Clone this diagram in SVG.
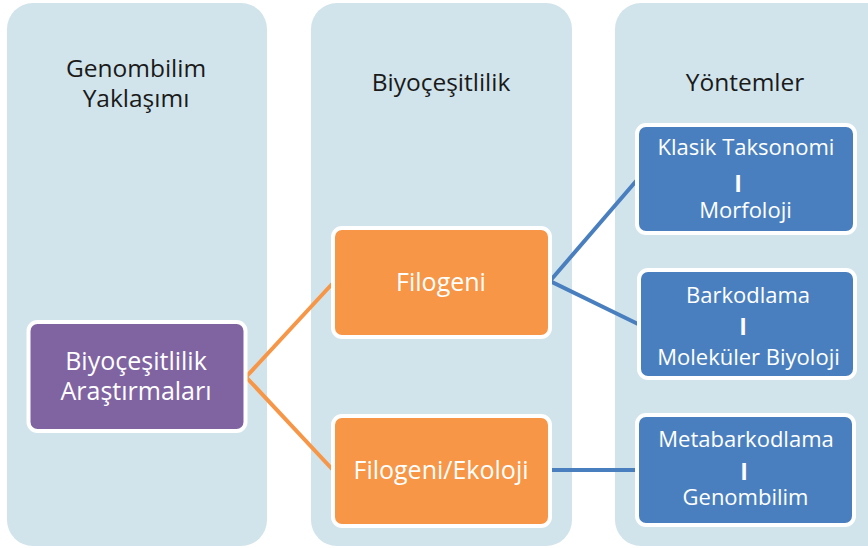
<svg xmlns="http://www.w3.org/2000/svg" width="868" height="548" viewBox="0 0 868 548">
<style>
.col{fill:#D1E4EB}
.box{stroke:#fff;stroke-width:4}
.p{fill:#8064A2}.o{fill:#F79646}.b{fill:#4A7FBF}
.h{font-family:"Open Sans","Liberation Sans",sans-serif;font-size:24.5px;fill:#1a1a1a;text-anchor:middle}
.t{font-family:"Open Sans","Liberation Sans",sans-serif;fill:#fff;text-anchor:middle}
.big{font-size:25px}.sm{font-size:22px}
.bar{font-family:"Open Sans","Liberation Sans",sans-serif;fill:#fff;text-anchor:middle;font-size:23px;font-weight:bold}
.lo{stroke:#F79646;stroke-width:4;fill:none}
.lb{stroke:#4A7FBF;stroke-width:4;fill:none}
</style>
<rect width="868" height="548" fill="#fff"/>
<g id="columns">
<rect class="col" x="7" y="3" width="260" height="543" rx="26"/>
<rect class="col" x="311" y="3" width="261" height="543" rx="26"/>
<rect class="col" x="615" y="3" width="280" height="543" rx="26"/>
<text class="h" x="136" y="77">Genombilim</text>
<text class="h" x="136" y="107">Yaklaşımı</text>
<text class="h" x="441" y="91">Biyoçeşitlilik</text>
<text class="h" x="745" y="91">Yöntemler</text>
</g>
<g id="connectors">
<polyline class="lo" points="333,283 246,377 333,470"/>
<polyline class="lb" points="637,180 550,281 638,324"/>
<line class="lb" x1="550" y1="470" x2="638" y2="470"/>
</g>
<g id="n-arastirmalar">
<rect class="box p" x="28.5" y="322" width="217" height="109" rx="9"/>
<text class="t big" x="136" y="370">Biyoçeşitlilik</text>
<text class="t big" x="136" y="400">Araştırmaları</text>
</g>
<g id="n-filogeni">
<rect class="box o" x="333" y="228" width="217" height="109" rx="9"/>
<text class="t big" x="441" y="291">Filogeni</text>
</g>
<g id="n-filogeni-ekoloji">
<rect class="box o" x="333" y="416" width="217" height="110" rx="9"/>
<text class="t big" x="441" y="479">Filogeni/Ekoloji</text>
</g>
<g id="n-klasik">
<rect class="box b" x="637" y="125" width="218" height="108" rx="9"/>
<text class="t sm" x="746" y="155">Klasik Taksonomi</text>
<text class="bar" x="738" y="192">I</text>
<text class="t sm" x="745.5" y="218">Morfoloji</text>
</g>
<g id="n-barkodlama">
<rect class="box b" x="639" y="270" width="216" height="108" rx="9"/>
<text class="t sm" x="748" y="303">Barkodlama</text>
<text class="bar" x="743" y="335">I</text>
<text class="t sm" x="748.5" y="365">Moleküler Biyoloji</text>
</g>
<g id="n-metabarkodlama">
<rect class="box b" x="637" y="415" width="217" height="110" rx="9"/>
<text class="t sm" x="746" y="447">Metabarkodlama</text>
<text class="bar" x="744" y="480">I</text>
<text class="t sm" x="745.5" y="505">Genombilim</text>
</g>
</svg>
